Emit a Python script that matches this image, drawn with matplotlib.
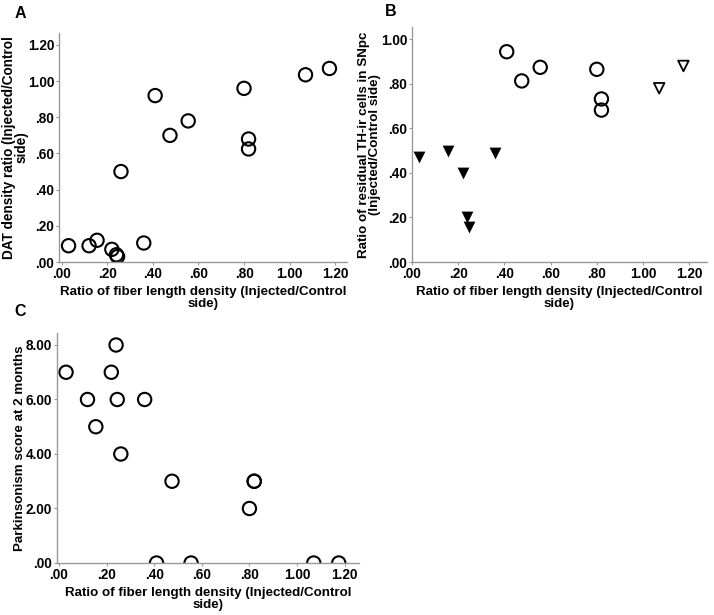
import matplotlib
matplotlib.use("Agg")
import matplotlib.pyplot as plt
from matplotlib.ticker import FuncFormatter, MultipleLocator

plt.rcParams['font.family'] = ['Liberation Sans', 'DejaVu Sans']
plt.rcParams['font.weight'] = 'bold'

# Shared x: ratio of fiber length density
fiber_ratio = [0.03, 0.12, 0.155, 0.22, 0.24, 0.245, 0.26, 0.36,
               0.41, 0.475, 0.555, 0.80, 0.82, 0.82, 1.07, 1.175]
# Panel A: DAT density ratio
dat_ratio = [0.09, 0.09, 0.12, 0.07, 0.04, 0.03, 0.50, 0.105,
             0.92, 0.70, 0.78, 0.96, 0.68, 0.625, 1.035, 1.07]
# Panel C: Parkinsonism score
parkinsonism = [7, 6, 5, 7, 8, 6, 4, 6, 0, 3, 0, 2, 3, 3, 0, 0]

# Panel B groups
b_filled_x = [0.03, 0.155, 0.22, 0.24, 0.245, 0.36]
b_filled_y = [0.47, 0.50, 0.40, 0.20, 0.157, 0.49]
b_circle_x = [0.41, 0.475, 0.555, 0.80, 0.82, 0.82]
b_circle_y = [0.944, 0.813, 0.874, 0.865, 0.732, 0.682]
b_open_x = [1.07, 1.175]
b_open_y = [0.78, 0.88]

xlabel = "Ratio of fiber length density (Injected/Control\nside)"

W, H = 714, 615
fig = plt.figure(figsize=(W / 100, H / 100), dpi=100)


def px_axes(left, top, right, bottom):
    return fig.add_axes([left / W, 1 - bottom / H, (right - left) / W, (bottom - top) / H])


def fmt(v, pos):
    s = f"{v:.2f}"
    if s.startswith("0"):
        s = s[1:]
    return s


def style(ax, xlim, ylim, ystep):
    ax.set_xlim(*xlim)
    ax.set_ylim(*ylim)
    ax.xaxis.set_major_locator(MultipleLocator(0.2))
    ax.yaxis.set_major_locator(MultipleLocator(ystep))
    ax.xaxis.set_major_formatter(FuncFormatter(fmt))
    ax.yaxis.set_major_formatter(FuncFormatter(fmt))
    for s in ['top', 'right']:
        ax.spines[s].set_visible(False)
    for s in ['left', 'bottom']:
        ax.spines[s].set_color('#999999')
        ax.spines[s].set_linewidth(1.0)
    ax.tick_params(axis='both', length=2.5, width=0.8, color='#999999',
                   labelsize=9.8, pad=1, labelcolor='black')
    for lab in ax.get_xticklabels() + ax.get_yticklabels():
        lab.set_fontweight('bold')
    ax.set_xlabel(xlabel, fontsize=9.6, fontweight='bold', labelpad=3.5, linespacing=1.0)


circle_kw = dict(marker='o', s=92, facecolors='none', edgecolors='black', linewidths=1.5)

# Panel A
axA = px_axes(59, 33, 347, 262)
axA.scatter(fiber_ratio, dat_ratio, **circle_kw)
style(axA, (-0.012, 1.252), (0, 1.266), 0.2)
axA.set_ylabel("DAT density ratio (Injected/Control\nside)", fontsize=9.8,
               fontweight='bold', linespacing=0.9)
axA.yaxis.set_label_coords((29 - 59) / 288, 0.5)

# Panel B
axB = px_axes(412, 27, 707, 262)
axB.scatter(b_filled_x, b_filled_y, marker='v', s=72, color='black', linewidths=0)
axB.scatter(b_circle_x, b_circle_y, **circle_kw)
axB.scatter(b_open_x, b_open_y, marker='v', s=58, facecolors='none',
            edgecolors='black', linewidths=1.3)
style(axB, (0.0, 1.277), (0, 1.055), 0.2)
axB.set_ylabel("Ratio of residual TH-ir cells in SNpc\n(Injected/Control side)",
               fontsize=9.6, fontweight='bold', linespacing=0.9)
axB.yaxis.set_label_coords((381 - 412) / 295, 0.5)

# Panel C
axC = px_axes(57, 333, 359, 563)
axC.scatter(fiber_ratio, parkinsonism, **circle_kw)
style(axC, (-0.008, 1.26), (0, 8.44), 2.0)
axC.set_ylabel("Parkinsonism score at 2 months", fontsize=9.6, fontweight='bold')
axC.yaxis.set_label_coords((26 - 57) / 302, 0.5)

# Panel letters
fig.text(20 / W, 1 - 13 / H, "A", fontsize=11.5, fontweight='bold', ha='center', va='center')
fig.text(391 / W, 1 - 12 / H, "B", fontsize=11.5, fontweight='bold', ha='center', va='center')
fig.text(20 / W, 1 - 311 / H, "C", fontsize=11.5, fontweight='bold', ha='center', va='center')

fig.savefig("out.png", dpi=100)
